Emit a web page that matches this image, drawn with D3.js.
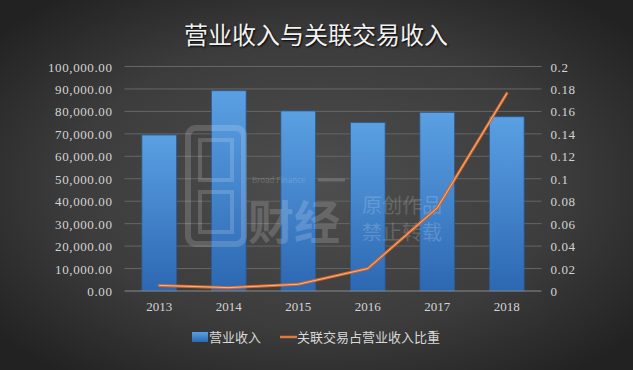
<!DOCTYPE html>
<html lang="zh">
<head>
<meta charset="utf-8">
<title>营业收入与关联交易收入</title>
<script src="https://d3js.org/d3.v7.min.js"></script>
<style>
body { margin: 0; background: #2a2a2a; }
svg { display: block; }
.axis text { font-family: "Liberation Serif", serif; font-size: 13px; fill: #d4d4d4; }
.axis path, .axis line { stroke: none; }
</style>
</head>
<body>
<script>
// data
var years = ["2013", "2014", "2015", "2016", "2017", "2018"];
var revenue = [69500, 89200, 80200, 75000, 79600, 77600];
var ratio = [0.005, 0.003, 0.006, 0.02, 0.074, 0.176];
var leftTicks = [0, 10000, 20000, 30000, 40000, 50000, 60000, 70000, 80000, 90000, 100000];
var rightTicks = [0, 0.02, 0.04, 0.06, 0.08, 0.1, 0.12, 0.14, 0.16, 0.18, 0.2];

var width = 633, height = 370;
var plotL = 124.5, plotR = 541.5, plotT = 66.5, plotB = 291;

var svg = d3.select("body").append("svg").attr("width", width).attr("height", height);
var defs = svg.append("defs");

var bg = defs.append("radialGradient").attr("id", "bg")
  .attr("cx", "50%").attr("cy", "50%").attr("r", "65%");
bg.append("stop").attr("offset", "0%").attr("stop-color", "#4e4e4e");
bg.append("stop").attr("offset", "60%").attr("stop-color", "#3c3c3c");
bg.append("stop").attr("offset", "100%").attr("stop-color", "#222");

var barGrad = defs.append("linearGradient").attr("id", "bar")
  .attr("x1", 0).attr("y1", 0).attr("x2", 0).attr("y2", 1);
barGrad.append("stop").attr("offset", "0%").attr("stop-color", "#5ba0e3");
barGrad.append("stop").attr("offset", "100%").attr("stop-color", "#2c68b2");

svg.append("rect").attr("width", width).attr("height", height).attr("fill", "url(#bg)");

// scales
var x = d3.scaleBand().domain(years).range([plotL, plotR]).paddingInner(0.5).paddingOuter(0.25);
var y = d3.scaleLinear().domain([0, 100000]).range([plotB, plotT]);
var y2 = d3.scaleLinear().domain([0, 0.2]).range([plotB, plotT]);

// gridlines
svg.append("g").selectAll("line")
  .data(leftTicks.slice(1))
  .enter().append("line")
  .attr("x1", plotL).attr("x2", plotR)
  .attr("y1", function(d) { return y(d); }).attr("y2", function(d) { return y(d); })
  .attr("stroke", "#666").attr("stroke-width", 1);

// bars
svg.append("g").selectAll("rect")
  .data(revenue)
  .enter().append("rect")
  .attr("x", function(d, i) { return x(years[i]); })
  .attr("width", x.bandwidth())
  .attr("y", function(d) { return y(d); })
  .attr("height", function(d) { return plotB - y(d); })
  .attr("fill", "url(#bar)")
  .attr("stroke", "#2a5a95").attr("stroke-width", 0.8);

// watermark (sits over the bars)
var wm = svg.append("g").attr("fill", "#fff").attr("opacity", 0.16)
  .style("font-family", "'Noto Sans CJK SC', sans-serif");
wm.append("rect").attr("x", 188).attr("y", 128).attr("width", 56).attr("height", 116)
  .attr("rx", 8).attr("fill", "none").attr("stroke", "#fff").attr("stroke-width", 6);
wm.append("rect").attr("x", 200).attr("y", 140).attr("width", 32).attr("height", 40)
  .attr("fill", "none").attr("stroke", "#fff").attr("stroke-width", 4);
wm.append("rect").attr("x", 200).attr("y", 192).attr("width", 32).attr("height", 40)
  .attr("fill", "none").attr("stroke", "#fff").attr("stroke-width", 4);
wm.append("text").attr("x", 252).attr("y", 183).attr("font-size", 8).text("Broad Finance");
wm.append("line").attr("x1", 318).attr("x2", 345).attr("y1", 180).attr("y2", 180)
  .attr("stroke", "#fff").attr("stroke-width", 3);
wm.append("text").attr("x", 248).attr("y", 239).attr("font-size", 46).attr("font-weight", 700).text("财经");
wm.append("text").attr("x", 362).attr("y", 213).attr("font-size", 20).text("原创作品");
wm.append("text").attr("x", 362).attr("y", 240).attr("font-size", 20).text("禁止转载");

// baseline
svg.append("line").attr("x1", plotL).attr("x2", plotR)
  .attr("y1", plotB).attr("y2", plotB).attr("stroke", "#8a8a8a");

// line
var line = d3.line()
  .x(function(d, i) { return x(years[i]) + x.bandwidth() / 2; })
  .y(function(d) { return y2(d); });
svg.append("path").datum(ratio).attr("d", line)
  .attr("fill", "none").attr("stroke", "#d4672a").attr("stroke-width", 3)
  .attr("stroke-linejoin", "round").attr("stroke-linecap", "round");
svg.append("path").datum(ratio).attr("d", line)
  .attr("fill", "none").attr("stroke", "#f5b58a").attr("stroke-width", 1)
  .attr("stroke-linejoin", "round");

// axes
var fmt = d3.format(",.2f");
svg.append("g").attr("class", "axis")
  .attr("transform", "translate(" + (plotL - 4) + ",0)")
  .call(d3.axisLeft(y).tickValues(leftTicks).tickFormat(function(d) { return fmt(d); }).tickSize(0).tickPadding(8))
  .selectAll("text").attr("dy", "0.35em").style("letter-spacing", "0.6px");

svg.append("g").attr("class", "axis")
  .attr("transform", "translate(" + (plotR + 2) + ",0)")
  .call(d3.axisRight(y2).tickValues(rightTicks).tickFormat(function(d) { return String(+d.toFixed(2)); }).tickSize(0).tickPadding(7))
  .selectAll("text").attr("dy", "0.35em").style("letter-spacing", "0.6px");

svg.append("g").attr("class", "axis")
  .attr("transform", "translate(0," + plotB + ")")
  .call(d3.axisBottom(x).tickSize(0).tickPadding(11));

// title
svg.append("text").attr("x", 316).attr("y", 44).attr("text-anchor", "middle")
  .style("font-family", "'Noto Sans CJK SC', sans-serif").style("font-size", "24px")
  .attr("fill", "#f2f2f2").style("text-shadow", "1px 1px 2px #000")
  .text("营业收入与关联交易收入");

// legend
var lg = svg.append("g").style("font-family", "'Noto Sans CJK SC', sans-serif").style("font-size", "13px");
lg.append("rect").attr("x", 192).attr("y", 332).attr("width", 16).attr("height", 10).attr("fill", "url(#bar)");
lg.append("text").attr("x", 209).attr("y", 342).attr("fill", "#d8d8d8").text("营业收入");
lg.append("line").attr("x1", 280).attr("x2", 297).attr("y1", 337).attr("y2", 337)
  .attr("stroke", "#e07a3c").attr("stroke-width", 2.5);
lg.append("text").attr("x", 297).attr("y", 342).attr("fill", "#d8d8d8").text("关联交易占营业收入比重");
</script>
</body>
</html>
